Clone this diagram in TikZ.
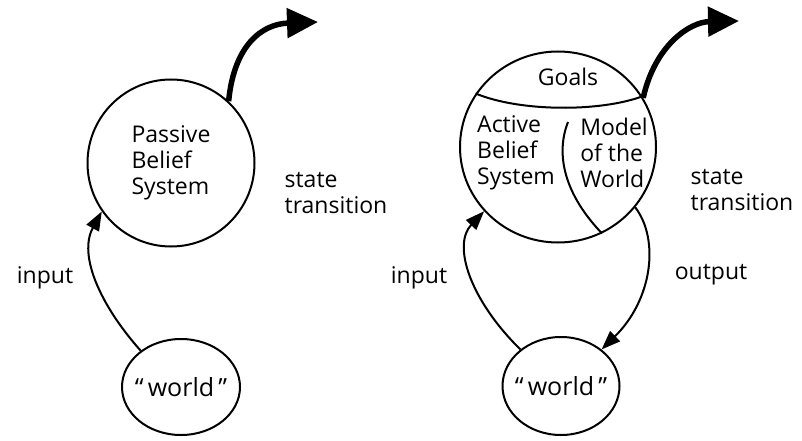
\documentclass[tikz,border=0pt]{standalone}
\usepackage{fontspec}
\setmainfont{Open Sans}
\usetikzlibrary{arrows.meta,shapes.geometric}
\tikzset{blob/.style={draw,ellipse,line width=2pt,inner sep=0pt,align=left,font=\fontsize{23}{26}\selectfont},lbl/.style={align=left,inner sep=0pt,font=\fontsize{23}{26}\selectfont},wlbl/.style={inner sep=0pt,font=\fontsize{25}{28}\selectfont},flow/.style={-{Triangle[length=19pt,width=14pt]},line width=2pt},trans/.style={-{Triangle[length=31pt,width=29pt]},line width=5.5pt},part/.style={line width=2pt}}

\begin{document}
\begin{tikzpicture}[x=1pt,y=-1pt]
\useasboundingbox (0,0) rectangle (802,441);
% passive side
\node[blob,minimum width=167pt,minimum height=167pt] (pbs) at (171,163)
 {Passive\\Belief\\System};
\node[blob,minimum width=118pt,minimum height=96pt,label={[wlbl]center:``\,world\,''}] (worldl) at (181,387) {};
\coordinate (outl) at (318,22);
\draw[trans] (pbs.47) .. controls (234,45) and (262,24) .. (outl);
\draw[flow] (worldl.138) .. controls (100,305) and (78,255) .. (pbs.215);
\node[lbl] (inl) at (45,278) {input};
\node[lbl] (stl) at (336,193) {state\\transition};
% active side
\node[blob,minimum width=196pt,minimum height=191pt] (abs) at (558,147) {};
\node[blob,minimum width=117pt,minimum height=98pt,label={[wlbl]center:``\,world\,''}] (worldr) at (561,386) {};
\draw[part] (abs.147) .. controls (520,112) and (600,112) .. (abs.31);
\coordinate (split) at (568,122);
\draw[part] (split) .. controls (555,155) and (565,195) .. (abs.-63);
\node[lbl] (goals) at (568,77) {Goals};
\node[lbl] (active) at (516,153) {Active\\Belief\\System};
\node[lbl] (model) at (614,153) {Model\\of the\\World};
\coordinate (outr) at (739,21);
\draw[trans] (abs.30) .. controls (655,45) and (690,22) .. (outr);
\draw[flow] (worldr.138) .. controls (470,300) and (452,245) .. (abs.221);
\draw[flow] (abs.-38) .. controls (660,240) and (652,300) .. (worldr.42);
\node[lbl] (inr) at (419,278) {input};
\node[lbl] (outp) at (711,275) {output};
\node[lbl] (str) at (742,190) {state\\transition};
\end{tikzpicture}
\end{document}
